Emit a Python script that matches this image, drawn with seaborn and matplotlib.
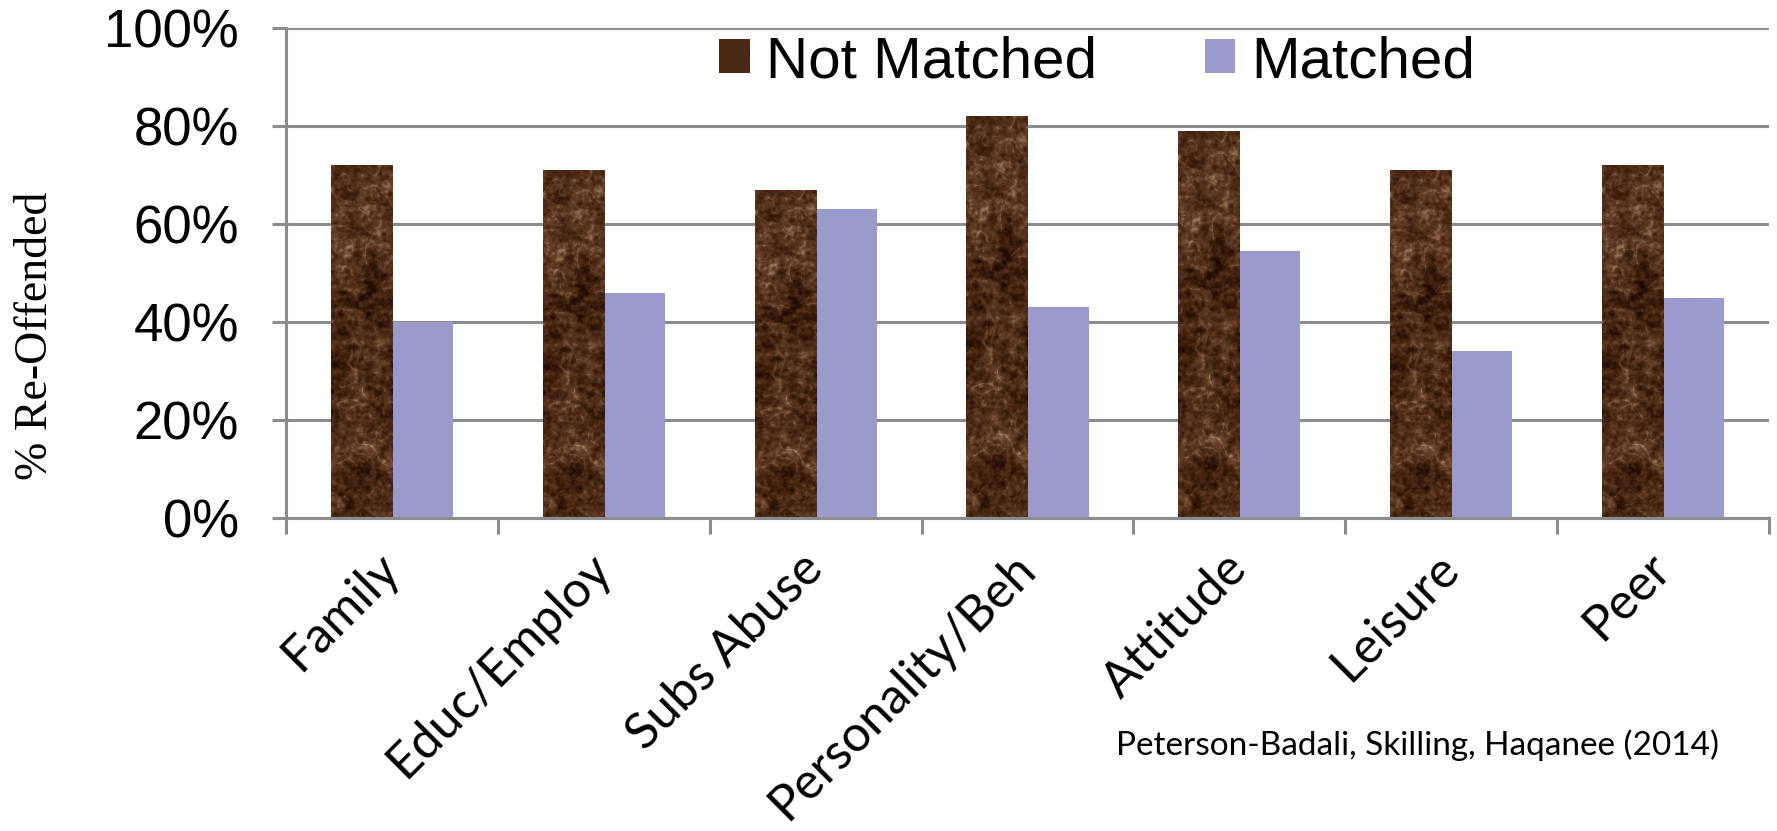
import numpy as np
import pandas as pd
import matplotlib
matplotlib.use("Agg")
import matplotlib.pyplot as plt
import seaborn as sns
from matplotlib.patches import Rectangle
from matplotlib.colors import LinearSegmentedColormap, to_hex

# ---- data -------------------------------------------------------------
categories = ["Family", "Educ/Employ", "Subs Abuse", "Personality/Beh",
              "Attitude", "Leisure", "Peer"]
series_names = ["Not Matched", "Matched"]
not_matched = [72, 71, 67, 82, 79, 71, 72]
matched = [40, 46, 63, 43, 54.5, 34, 45]
y_ticks = [0, 20, 40, 60, 80, 100]
y_tick_labels = ["0%", "20%", "40%", "60%", "80%", "100%"]
y_label = "% Re-Offended"
citation = "Peterson-Badali, Skilling, Haqanee (2014)"

df = pd.DataFrame({
    "category": categories * 2,
    "value": not_matched + matched,
    "group": [series_names[0]] * len(categories) + [series_names[1]] * len(categories),
})

BROWN = "#4a2a16"
PURPLE = "#9a9acc"
GRID = "#8c8c8c"
W, H = 1777, 831


# ---- marble texture used as the fill of the "Not Matched" bars ----------
def smooth_noise(rng, shape, sigma):
    n = rng.standard_normal(shape)
    fy = np.fft.fftfreq(shape[0])[:, None]
    fx = np.fft.fftfreq(shape[1])[None, :]
    filt = np.exp(-2 * (np.pi * sigma) ** 2 * (fx ** 2 + fy ** 2))
    out = np.real(np.fft.ifft2(np.fft.fft2(n) * filt))
    return (out - out.mean()) / out.std()


def marble_texture(shape=(420, 66), seed=11):
    rng = np.random.default_rng(seed)
    blotch = smooth_noise(rng, shape, 14)
    medium = smooth_noise(rng, shape, 4)
    speck = smooth_noise(rng, shape, 1.6)
    fine = smooth_noise(rng, shape, 0.7)
    v1 = np.clip(1 - np.abs(smooth_noise(rng, shape, 7)) * 2.0, 0, 1) ** 5
    v2 = np.clip(1 - np.abs(smooth_noise(rng, shape, 3)) * 2.2, 0, 1) ** 5
    lum = (0.40 + 0.07 * blotch + 0.07 * medium + 0.08 * speck + 0.04 * fine
           + 0.24 * v1 + 0.20 * v2)
    rows = np.linspace(0, 1, shape[0])[:, None]
    cols = np.linspace(0, 1, shape[1])[None, :]
    lum -= 0.16 * np.exp(-((rows - 0.36) ** 2 / 0.003 + (cols - 0.6) ** 2 / 0.05))
    lum -= 0.10 * np.exp(-((rows - 0.2) ** 2 / 0.002 + (cols - 0.55) ** 2 / 0.06))
    lum += 0.07 * np.exp(-((rows - 0.27) ** 2 / 0.004))
    lum = np.clip(lum, 0, 1)
    cmap = LinearSegmentedColormap.from_list(
        "marble", ["#1c0a03", "#341808", "#4c2a15", "#664029", "#8c6a4c", "#b8987a"])
    return cmap(lum)


tex = marble_texture()

# ---- figure -----------------------------------------------------------
sns.set_theme(style="white")
plt.rcParams["font.family"] = ["Liberation Sans", "DejaVu Sans"]
plt.rcParams["text.color"] = "black"

fig = plt.figure(figsize=(W / 100, H / 100), dpi=100)
ax = fig.add_axes([286 / W, 1 - 518 / H, (1769 - 286) / W, (518 - 28) / H])

sns.barplot(data=df, x="category", y="value", hue="group",
            order=categories, hue_order=series_names,
            palette={series_names[0]: BROWN, series_names[1]: PURPLE},
            width=0.577, saturation=1, linewidth=0, errorbar=None,
            legend=False, ax=ax)

# fill the brown bars with the marble texture
for p in list(ax.patches):
    if to_hex(p.get_facecolor()) == BROWN and p.get_height() > 0:
        x0, y0 = p.get_x(), p.get_y()
        im = ax.imshow(tex, extent=(x0, x0 + p.get_width(), y0, y0 + p.get_height()),
                       aspect="auto", interpolation="bilinear", origin="upper",
                       zorder=p.get_zorder() + 0.1)
        im.set_clip_path(p)

ax.set_xlim(-0.5, len(categories) - 0.5)
ax.set_ylim(0, 100)
ax.set_aspect("auto")

# gridlines and axes
ax.set_axisbelow(True)
ax.yaxis.grid(True, color=GRID, linewidth=2.2)
ax.xaxis.grid(False)
for s in ["top", "right"]:
    ax.spines[s].set_visible(False)
for s in ["left", "bottom"]:
    ax.spines[s].set_color(GRID)
    ax.spines[s].set_linewidth(2.2)

ax.set_yticks(y_ticks)
ax.set_yticklabels(y_tick_labels)
ax.tick_params(axis="y", which="major", direction="out", length=10, width=2.2,
               color=GRID, pad=24, labelsize=38, labelcolor="black", left=True)

# category boundaries as major ticks, category names on minor ticks
ax.set_xticks(np.arange(-0.5, len(categories), 1.0))
ax.set_xticklabels([])
ax.set_xticks(np.arange(len(categories)), minor=True)
ax.set_xticklabels(categories, minor=True, rotation=45, ha="right",
                   va="center", rotation_mode="anchor",
                   fontfamily="Lato", fontsize=36)
ax.tick_params(axis="x", which="major", direction="out", length=11.5, width=2.2,
               color=GRID, bottom=True)
ax.tick_params(axis="x", which="minor", length=0, pad=31, bottom=True,
               labelcolor="black")
ax.set_xlabel("")
ax.set_ylabel("")

# y axis title
fig.text(36 / W, 1 - 336 / H, y_label, rotation=90, ha="center", va="center",
         fontfamily="Liberation Serif", fontsize=33, color="black")

# source note
fig.text(1116 / W, 1 - 745 / H, citation, ha="left", va="center",
         fontfamily="Lato", fontsize=24, color="black")

# legend
handles = [Rectangle((0, 0), 1, 1, facecolor=BROWN, edgecolor="none"),
           Rectangle((0, 0), 1, 1, facecolor=PURPLE, edgecolor="none")]
leg = fig.legend(handles, series_names, loc="center",
                 bbox_to_anchor=(1097 / W, 1 - 62 / H), ncol=2, frameon=False,
                 fontsize=42, handlelength=0.52, handleheight=0.52,
                 handletextpad=0.28, columnspacing=1.85, borderpad=0,
                 labelcolor="black")

fig.canvas.draw()
renderer = fig.canvas.get_renderer()
hb = leg.legend_handles[0].get_window_extent(renderer)
fb = hb.transformed(fig.transFigure.inverted())
hax = fig.add_axes([fb.x0, fb.y0, fb.width, fb.height])
hax.imshow(tex[120:220, :, :], aspect="auto", interpolation="bilinear")
hax.set_axis_off()

fig.savefig("out.png", dpi=100)
